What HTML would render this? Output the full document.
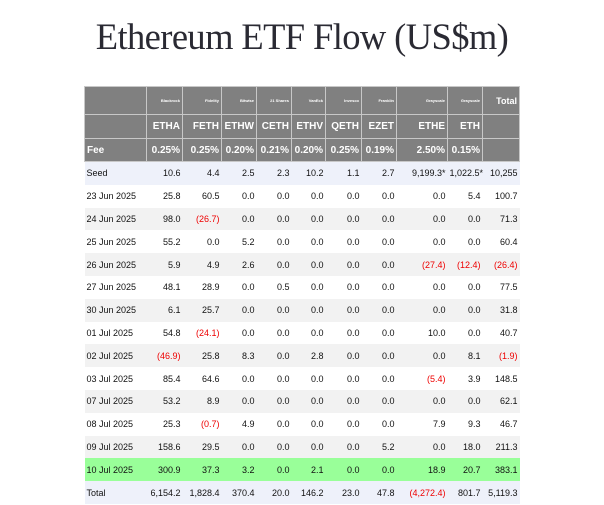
<!DOCTYPE html>
<html><head><meta charset="utf-8"><style>
body{margin:0;width:604px;height:505px;background:#fff;overflow:hidden;font-family:"Liberation Sans",Arial,sans-serif}
h1{position:absolute;left:0;width:604px;top:15px;margin:0;text-align:center;font:36.5px "Liberation Serif",serif;color:#2a2a33;letter-spacing:-0.6px}
table{position:absolute;left:84px;top:86px;border-collapse:collapse;table-layout:fixed;width:435px;font-size:9px}
td{padding:0 2px;text-align:right;white-space:nowrap;overflow:hidden}
td:first-child{text-align:left}
tr.h td{background:#808080;color:#fff;font-weight:bold;border:1px solid #c8c8c8}
tr.h1 td{height:27px;font-size:4px;vertical-align:middle}
tr.h1 td.tot{font-size:9px}
tr.h2 td{height:23px;font-size:10px}
tr.h3 td{height:22px;font-size:10px}
tr.d td{height:22.8px;color:#111}
tr.d td.n{color:#e00}
tr.b td{background:#eef1fa}
tr.g td{background:#f2f2f2}
tr.gr td{background:#99ff99}
</style></head><body>
<h1>Ethereum ETF Flow (US$m)</h1>
<table>
<colgroup><col style="width:62px"><col style="width:36px"><col style="width:39px"><col style="width:35px"><col style="width:35px"><col style="width:34px"><col style="width:36px"><col style="width:35px"><col style="width:51px"><col style="width:35px"><col style="width:37px"></colgroup>
<tr class="h h1"><td></td><td>Blackrock</td><td>Fidelity</td><td>Bitwise</td><td>21 Shares</td><td>VanEck</td><td>Invesco</td><td>Franklin</td><td>Grayscale</td><td>Grayscale</td><td class="tot">Total</td></tr>
<tr class="h h2"><td></td><td>ETHA</td><td>FETH</td><td>ETHW</td><td>CETH</td><td>ETHV</td><td>QETH</td><td>EZET</td><td>ETHE</td><td>ETH</td><td></td></tr>
<tr class="h h3"><td>Fee</td><td>0.25%</td><td>0.25%</td><td>0.20%</td><td>0.21%</td><td>0.20%</td><td>0.25%</td><td>0.19%</td><td>2.50%</td><td>0.15%</td><td></td></tr>
<tbody id="body"></tbody>
</table>
<script>
const rows=[
["Seed","b",["10.6","4.4","2.5","2.3","10.2","1.1","2.7","9,199.3*","1,022.5*","10,255"]],
["23 Jun 2025","",["25.8","60.5","0.0","0.0","0.0","0.0","0.0","0.0","5.4","100.7"]],
["24 Jun 2025","g",["98.0","(26.7)","0.0","0.0","0.0","0.0","0.0","0.0","0.0","71.3"]],
["25 Jun 2025","",["55.2","0.0","5.2","0.0","0.0","0.0","0.0","0.0","0.0","60.4"]],
["26 Jun 2025","g",["5.9","4.9","2.6","0.0","0.0","0.0","0.0","(27.4)","(12.4)","(26.4)"]],
["27 Jun 2025","",["48.1","28.9","0.0","0.5","0.0","0.0","0.0","0.0","0.0","77.5"]],
["30 Jun 2025","g",["6.1","25.7","0.0","0.0","0.0","0.0","0.0","0.0","0.0","31.8"]],
["01 Jul 2025","",["54.8","(24.1)","0.0","0.0","0.0","0.0","0.0","10.0","0.0","40.7"]],
["02 Jul 2025","g",["(46.9)","25.8","8.3","0.0","2.8","0.0","0.0","0.0","8.1","(1.9)"]],
["03 Jul 2025","",["85.4","64.6","0.0","0.0","0.0","0.0","0.0","(5.4)","3.9","148.5"]],
["07 Jul 2025","g",["53.2","8.9","0.0","0.0","0.0","0.0","0.0","0.0","0.0","62.1"]],
["08 Jul 2025","",["25.3","(0.7)","4.9","0.0","0.0","0.0","0.0","7.9","9.3","46.7"]],
["09 Jul 2025","g",["158.6","29.5","0.0","0.0","0.0","0.0","5.2","0.0","18.0","211.3"]],
["10 Jul 2025","gr",["300.9","37.3","3.2","0.0","2.1","0.0","0.0","18.9","20.7","383.1"]],
["Total","b",["6,154.2","1,828.4","370.4","20.0","146.2","23.0","47.8","(4,272.4)","801.7","5,119.3"]]
];
const tb=document.getElementById('body');
rows.forEach(r=>{
 const tr=document.createElement('tr');
 tr.className='d '+r[1];
 
 
 const c0=document.createElement('td');c0.textContent=r[0];
 
 
 tr.appendChild(c0);
 r[2].forEach(v=>{const td=document.createElement('td');td.textContent=v;
  if(v.startsWith('('))td.className='n';
  
  
  tr.appendChild(td);});
 tb.appendChild(tr);
});
</script>
</body></html>
